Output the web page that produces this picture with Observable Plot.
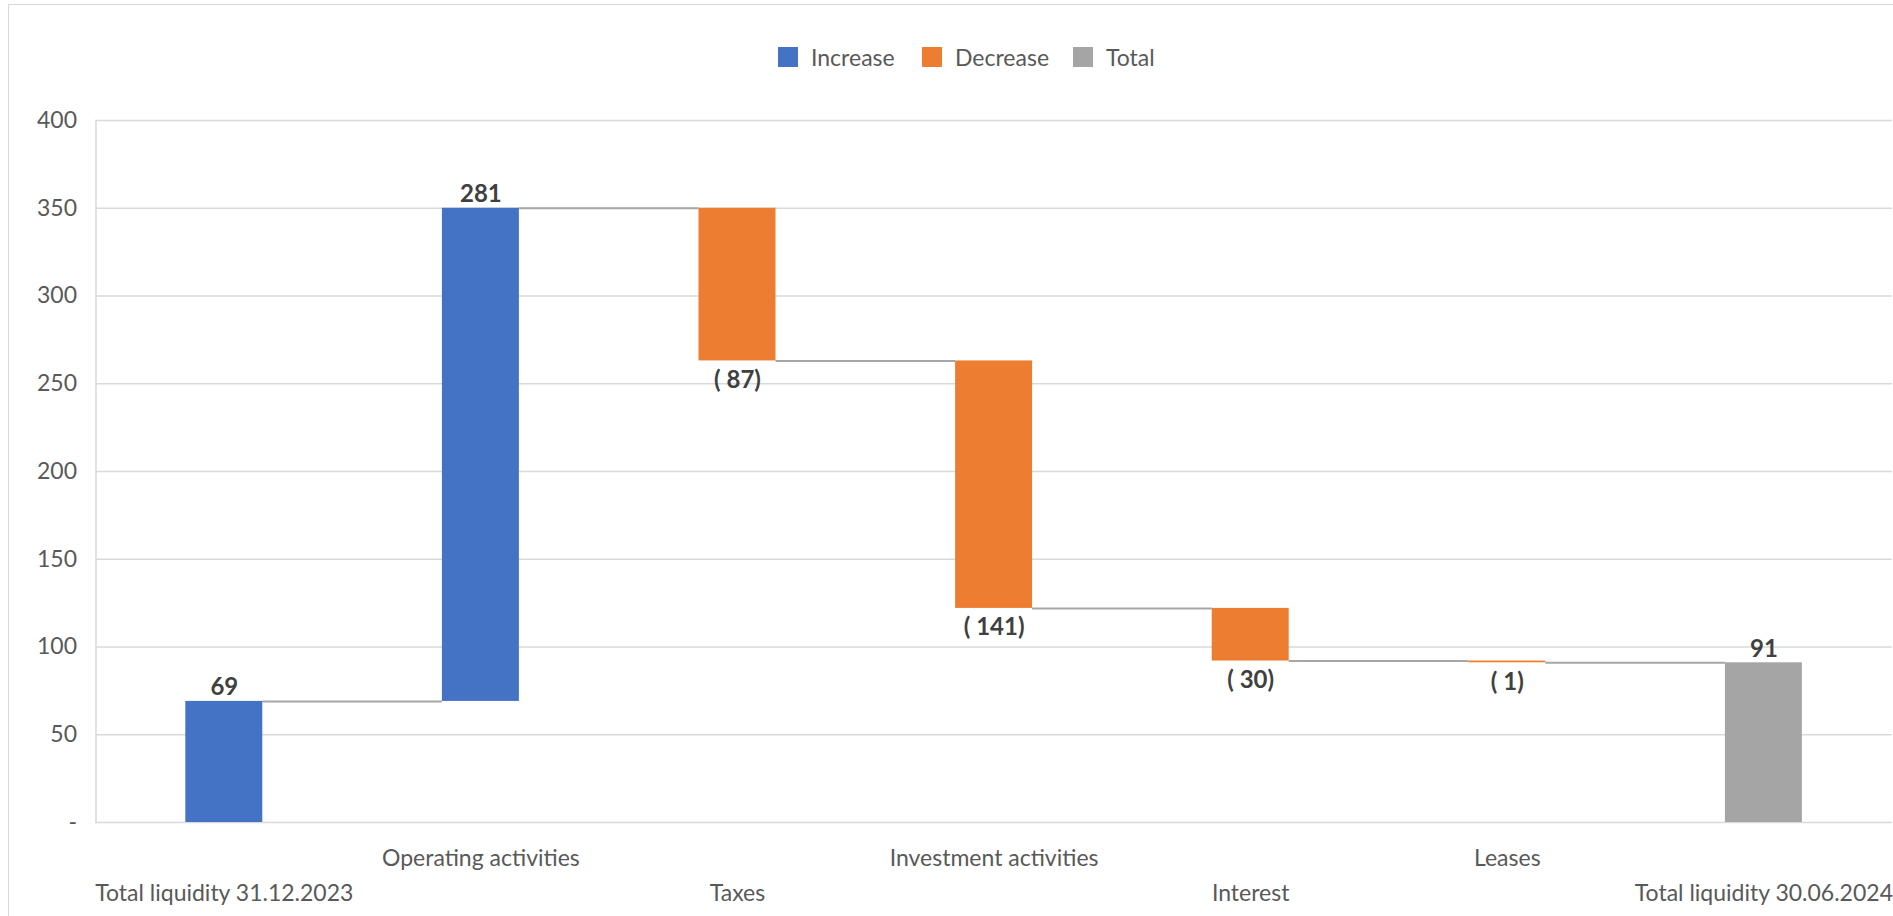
<!DOCTYPE html>
<html>
<head>
<meta charset="utf-8">
<script src="https://cdn.jsdelivr.net/npm/d3@7"></script>
<script src="https://cdn.jsdelivr.net/npm/@observablehq/plot@0.6"></script>
<style>
  html, body { margin: 0; padding: 0; background: #fff; overflow: hidden; }
  body { width: 1893px; height: 916px; position: relative; font-family: Lato, "Open Sans", sans-serif; }
  #border { position: absolute; left: 8px; top: 4px; width: 2000px; height: 2000px; border: 1px solid #d9d9d9; box-sizing: border-box; pointer-events: none; }
  #legend { position: relative; height: 80px; }
  .item { position: absolute; top: 47px; height: 20px; display: flex; align-items: center; font-size: 23px; color: #595959; white-space: nowrap; }
  .sw { width: 20px; height: 20px; margin-right: 13px; }
  #chart { display: block; }
</style>
</head>
<body>
<div id="border"></div>
<div id="legend"></div>
<div id="chart"></div>
<script>
// ---- data ----
const categories = [
  "Total liquidity 31.12.2023",
  "Operating activities",
  "Taxes",
  "Investment activities",
  "Interest",
  "Leases",
  "Total liquidity 30.06.2024"
];
const values = [69, 281, -87, -141, -30, -1, 91];
const kinds = ["Increase", "Increase", "Decrease", "Decrease", "Decrease", "Decrease", "Total"];
const labels = ["69", "281", "( 87)", "( 141)", "( 30)", "( 1)", "91"];
const legendKeys = ["Increase", "Decrease", "Total"];
const legendColors = ["#4472c4", "#ed7d31", "#a5a5a5"];
const yTicks = [0, 50, 100, 150, 200, 250, 300, 350, 400];
const legendLeft = [778, 922, 1073];

// ---- derived table ----
let run = 0;
const rows = categories.map((c, i) => {
  let start, end;
  if (kinds[i] === "Total") { start = 0; end = values[i]; }
  else { start = run; end = run + values[i]; }
  run = end;
  return { cat: c, start, end, kind: kinds[i], label: labels[i], up: values[i] >= 0 };
});
const connectors = rows.slice(0, -1).map((r, i) => ({ from: r.cat, to: categories[i + 1], y: r.end }));

// ---- legend ----
const legend = document.getElementById("legend");
legendKeys.forEach((k, i) => {
  const it = document.createElement("div");
  it.className = "item";
  it.style.left = legendLeft[i] + "px";
  it.innerHTML = `<span class="sw" style="background:${legendColors[i]}"></span><span>${k}</span>`;
  legend.appendChild(it);
});

// ---- chart ----
const W = 1893, mL = 95.5, mR = 1.3;
const step = (W - mL - mR) / categories.length;
const bw = step * 0.3;

const chart = Plot.plot({
  width: W,
  height: 836,
  marginLeft: mL,
  marginRight: mR,
  marginTop: 40,
  marginBottom: 94,
  style: { fontFamily: "Lato, 'Open Sans', sans-serif", color: "#595959", background: "transparent", overflow: "visible" },
  x: { domain: categories, paddingInner: 0.7, paddingOuter: 0.35, round: false, label: null },
  y: { domain: [0, 400], label: null },
  color: { domain: legendKeys, range: legendColors },
  marks: [
    Plot.ruleY(yTicks, { stroke: "#d9d9d9", strokeWidth: 1.5 }),
    Plot.frame({ anchor: "left", stroke: "#d9d9d9", strokeWidth: 1.5 }),
    Plot.ruleY(connectors, { x1: "from", x2: "to", y: "y", stroke: "#a6a6a6", strokeWidth: 2, insetLeft: bw, insetRight: bw }),
    Plot.barY(rows, { x: "cat", y1: "start", y2: "end", fill: "kind" }),
    Plot.text(rows.filter(d => d.up), { x: "cat", y: "end", text: "label", lineAnchor: "bottom", dy: -6, fontSize: 24, fontWeight: "bold", fill: "#404040" }),
    Plot.text(rows.filter(d => !d.up), { x: "cat", y: "end", text: "label", lineAnchor: "top", dy: 10, fontSize: 24, fontWeight: "bold", fill: "#404040" }),
    Plot.axisY(yTicks, { tickSize: 0, tickPadding: 19, tickFormat: d => d === 0 ? "-" : String(d), fontSize: 23, label: null }),
    Plot.axisX(categories.filter((c, i) => i % 2 === 1), { tickSize: 0, tickPadding: 27, fontSize: 23, label: null }),
    Plot.axisX(categories.filter((c, i) => i % 2 === 0), { tickSize: 0, tickPadding: 62, fontSize: 23, label: null })
  ]
});
document.getElementById("chart").appendChild(chart);
</script>
</body>
</html>
